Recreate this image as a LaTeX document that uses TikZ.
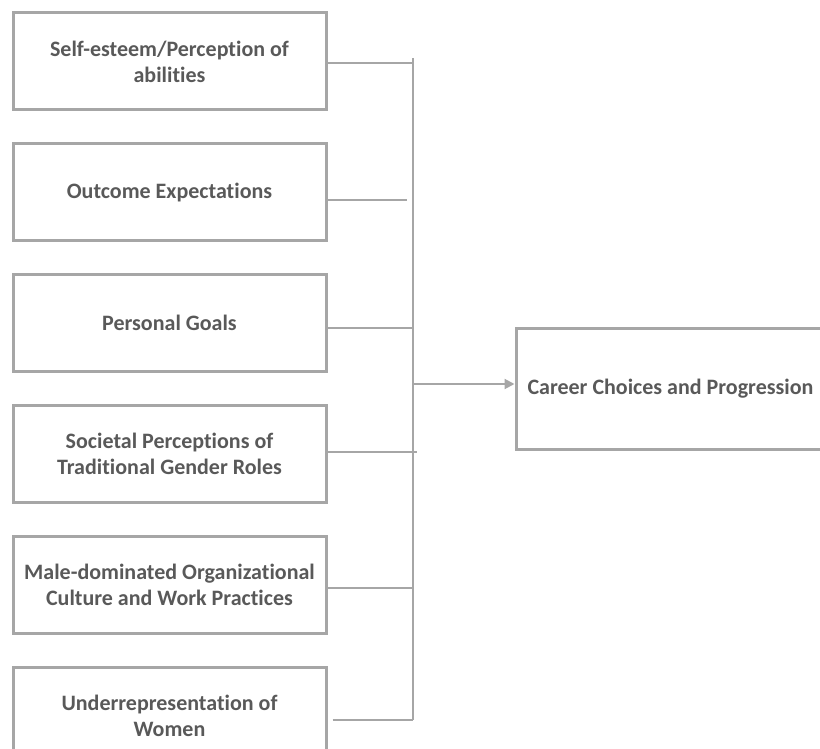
\documentclass[tikz,border=0pt]{standalone}
\usepackage{fontspec}
\setmainfont{Carlito}[Ligatures=NoCommon]
\usetikzlibrary{arrows.meta,positioning,calc}
\definecolor{boxgray}{HTML}{A6A6A6}
\definecolor{textgray}{HTML}{595959}

\begin{document}
\begin{tikzpicture}[x=0.5pt,y=-0.5pt]
    % Define node styles
    \tikzstyle{box}=[draw=boxgray, line width=1.5pt, inner sep=0pt, align=center, text=textgray, font=\bfseries\fontsize{11}{13}\selectfont]
    \tikzstyle{factor}=[box, minimum width=156.5pt, minimum height=48.5pt]
    \tikzstyle{outcome}=[box, minimum width=154.5pt, minimum height=60.5pt]
    \tikzstyle{link}=[draw=boxgray, line width=1pt]

    \useasboundingbox (0,0) rectangle (820,749);
    \clip (0,0) rectangle (820,749);

    % Draw factor boxes
    \foreach \txt [count=\i] in {{Self-esteem/Perception of\\abilities},
        {Outcome Expectations}, {Personal Goals},
        {Societal Perceptions of\\Traditional Gender Roles},
        {Male-dominated Organizational\\Culture and Work Practices},
        {Underrepresentation of\\Women}} {
        \node[factor] (F-\i) at (169.5, {61.5+130.9*(\i-1)}) {\txt};
    }

    % Draw outcome box
    \node[outcome] (C) at (670.5,388.5) {Career Choices and Progression};

    % Bus line
    \coordinate (bus top) at (413,58);
    \coordinate (bus bot) at (413,720);
    \coordinate (hub) at (413,384);
    \draw[link] (bus top) -- (bus bot);

    % Connect factors to bus
    \foreach \i/\dy/\sx/\ex in {1/1.5/0/0, 2/7.5/0/-6, 3/4.5/0/0, 4/-2/0/4, 5/2.5/0/0, 6/4/5/0} {
        \draw[link] ($(F-\i.east)+(\sx,\dy)$) -- ($(F-\i.east -| bus top)+(\ex,\dy)$);
    }

    % Arrow to outcome
    \draw[link, -{Triangle[length=5pt,width=5pt]}] (hub) -- (hub -| C.west);
\end{tikzpicture}
\end{document}
